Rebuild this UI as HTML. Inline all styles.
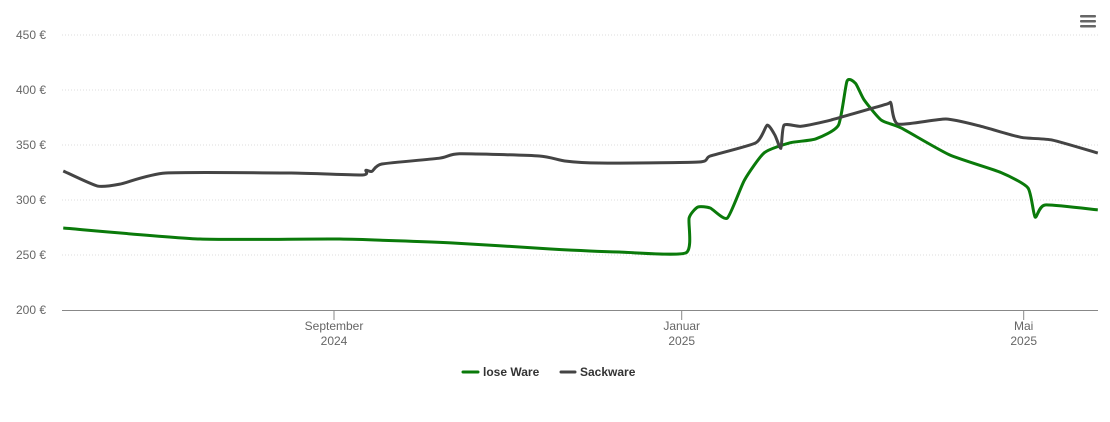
<!DOCTYPE html>
<html><head><meta charset="utf-8"><style>
body{margin:0;background:#fff;}
svg{display:block;font-family:"Liberation Sans",sans-serif;}
</style></head><body>
<svg id="chart" width="1110" height="422">
<g id="grid"></g><g id="yt"></g><g id="xt"></g><g id="series"></g>
<g fill="#666">
<rect x="1080" y="15" width="16" height="2.5" rx="1"/><rect x="1080" y="20" width="16" height="2.5" rx="1"/><rect x="1080" y="25" width="16" height="2.5" rx="1"/>
</g>
<g font-size="12" font-weight="bold" fill="#333">
<g><line x1="463" y1="372" x2="478" y2="372" stroke="#0a7a0a" stroke-width="3" stroke-linecap="round"/><text x="483" y="376">lose Ware</text></g>
<g><line x1="561" y1="372" x2="575" y2="372" stroke="#444" stroke-width="3" stroke-linecap="round"/><text x="580" y="376">Sackware</text></g>
</g>
</svg>
<script>
const yTicks=[200,250,300,350,400,450];
const xTickDays=[0,122,242];
const xTickMonths=["September","Januar","Mai"];
const xTickYears=["2024","2025","2025"];
const loseDays=[-95,-47,2,41,76,100,123.5,124.6,127.7,132,138,144,151,160,169,177,180,183,186,192,199,216,234,243.5,246,249.5,268];
const loseVals=[274.5,264.5,264.5,261,255.5,252.7,252,283.6,293.6,292.7,283.6,318,343,352,355.5,368,408,406,391,372.7,365.5,341,325,311,284.5,295.5,291];
const sackDays=[-95,-83,-75,-59,-15,10,11.2,13.3,16.8,37,44,72,81,93,128,132,148,152,154.7,156.8,157.9,163.9,174.4,193.7,195.4,197.9,214.7,227,241,252,268];
const sackVals=[326.4,312.7,314.5,324.5,324.5,322.7,327,326,332.7,338,342,340,335.5,333.6,334.5,340,352,368,359,347,368,367,372.7,387,388,369,373.6,367,357,354.5,342.7];
const X=d=>334+d*2.85, Y=v=>310-(v-200)*1.1;
const NS="http://www.w3.org/2000/svg";
function mk(t,a,p){const e=document.createElementNS(NS,t);for(const k in a)e.setAttribute(k,a[k]);p.appendChild(e);return e;}
const grid=document.getElementById('grid'),yt=document.getElementById('yt'),xt=document.getElementById('xt'),ser=document.getElementById('series');
yTicks.forEach(v=>{
  if(v>200){const l=mk('line',{x1:62,x2:1098,y1:Y(v),y2:Y(v),stroke:'#ddd','stroke-dasharray':'1,2'},grid);
  
  }
  const t=mk('text',{x:46,y:Y(v)+4,'text-anchor':'end','font-size':12,fill:'#666'},yt);t.textContent=v+' €';
  
  
});
const ax=mk('line',{x1:62,x2:1098,y1:310.5,y2:310.5,stroke:'#888'},xt);


xTickDays.forEach((d,i)=>{
  const l=mk('line',{x1:X(d),x2:X(d),y1:310,y2:320,stroke:'#888'},xt);
  
  
  const t=mk('text',{x:X(d),y:330,'text-anchor':'middle','font-size':12,fill:'#666'},xt);
  
  
  const a=mk('tspan',{x:X(d)},t);a.textContent=xTickMonths[i];
  const b=mk('tspan',{x:X(d),dy:15},t);b.textContent=xTickYears[i];
});
function path(ds,vs){
  const p=ds.map((d,i)=>[X(d),Y(vs[i])]);let s='M'+p[0].join(',');
  for(let i=0;i<p.length-1;i++){const p0=p[Math.max(0,i-1)],p1=p[i],p2=p[i+1],p3=p[Math.min(p.length-1,i+2)];
    const t=0.1;s+=' C'+(p1[0]+(p2[0]-p0[0])*t)+','+(p1[1]+(p2[1]-p0[1])*t)+' '+(p2[0]-(p3[0]-p1[0])*t)+','+(p2[1]-(p3[1]-p1[1])*t)+' '+p2[0]+','+p2[1];}
  return s;}
const s1=mk('path',{d:path(loseDays,loseVals),fill:'none',stroke:'#0a7a0a','stroke-width':3,'stroke-linejoin':'round'},ser);


const s2=mk('path',{d:path(sackDays,sackVals),fill:'none',stroke:'#444','stroke-width':3,'stroke-linejoin':'round'},ser);


</script>
</body></html>
